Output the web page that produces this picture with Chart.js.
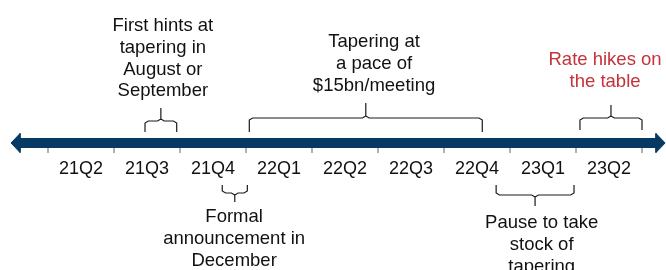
<!DOCTYPE html>
<html>
<head>
<meta charset="utf-8">
<script src="https://cdn.jsdelivr.net/npm/chart.js@4.4.0/dist/chart.umd.min.js"></script>
<style>
  html, body { margin: 0; padding: 0; background: #fff; }
  #wrap { width: 666px; height: 270px; position: relative; }
</style>
</head>
<body>
<div id="wrap"><canvas id="chart"></canvas></div>
<script>
// quarters on the timeline (one tick between each)
const quarters = ['21Q2', '21Q3', '21Q4', '22Q1', '22Q2', '22Q3', '22Q4', '23Q1', '23Q2'];

// events, in quarter units (0 = start of 21Q2)
const eventText = [
    ['First hints at', 'tapering in', 'August or', 'September'],
    ['Tapering at', 'a pace of', '$15bn/meeting'],
    ['Rate hikes on', 'the table'],
    ['Formal', 'announcement in', 'December'],
    ['Pause to take', 'stock of', 'tapering']
];
const eventStart = [1.47, 3.05, 8.06, 2.64, 6.79];
const eventEnd   = [1.95, 6.58, 9.00, 3.02, 7.97];
const eventRed   = [false, false, true, false, false];

// layout: text centre (quarter units), first baseline and bracket levels (px above the bar)
const textX       = [1.74, 4.94, 8.44, 2.82, 7.48];
const textTopY    = [112, 96, 78, -79, -85];
const bracketNear = [11, 11, 13, -42, -42];
const bracketMid  = [22, 25, 25, -50, -52];
const bracketTip  = [35, 40, 38, -59, -63];

const navy = '#063a64';
const red = '#c5323b';
const ink = '#111111';
const lineH = 21.8;
const labelY = -30.5;

// arrow ends (quarter units)
const arrowTipL = -0.56, arrowBaseL = -0.424;
const arrowBaseR = 9.212, arrowTipR = 9.35;

function bracket(i){
    let a = eventStart[i], b = eventEnd[i];
    let m = (a + b) / 2;
    let n = bracketNear[i], l = bracketMid[i], t = bracketTip[i];
    let s = Math.sign(l - n);
    let dx = 0.05, dy = 2 * s;
    return [
        {x: a, y: n}, {x: a, y: l - dy}, {x: a + dx, y: l}, {x: m - dx, y: l}, {x: m, y: l + dy}, {x: m, y: t},
        {x: m, y: l + dy}, {x: m + dx, y: l}, {x: b - dx, y: l}, {x: b, y: l - dy}, {x: b, y: n}
    ];
}

let tickData = [];
for(let k = 0; k <= quarters.length; k++){
    tickData.push({x: k, y: -5}, {x: k, y: -10}, {x: k, y: null});
}

let datasets = [];
datasets.push({
    data: [{x: arrowBaseL, y: 0}, {x: arrowBaseR, y: 0}],
    borderColor: navy, borderWidth: 10, order: 1
});
datasets.push({
    data: [{x: arrowTipL, y: 0}, {x: arrowBaseL, y: 9.5}, {x: arrowBaseL, y: -9.5}, {x: arrowTipL, y: 0}],
    borderColor: navy, backgroundColor: navy, borderWidth: 1, fill: 'shape', order: 1
});
datasets.push({
    data: [{x: arrowTipR, y: 0}, {x: arrowBaseR, y: 9.5}, {x: arrowBaseR, y: -9.5}, {x: arrowTipR, y: 0}],
    borderColor: navy, backgroundColor: navy, borderWidth: 1, fill: 'shape', order: 1
});
datasets.push({
    data: tickData, borderColor: '#a6a6a6', borderWidth: 1, spanGaps: false, order: 2
});
for(let i = 0; i < eventText.length; i++){
    datasets.push({
        data: bracket(i), borderColor: '#1a1a1a', borderWidth: 1.2, order: 0
    });
}

const textPlugin = {
    id: 'texts',
    afterDatasetsDraw(chart){
        const ctx = chart.ctx;
        const x = chart.scales.x, y = chart.scales.y;
        ctx.save();
        ctx.textAlign = 'center';
        ctx.textBaseline = 'alphabetic';
        ctx.fillStyle = ink;
        ctx.font = '18px "Liberation Sans", Arial, sans-serif';
        quarters.forEach((q, i) => {
            ctx.fillText(q, x.getPixelForValue(i + 0.5), y.getPixelForValue(labelY));
        });
        ctx.font = '18.5px "Liberation Sans", Arial, sans-serif';
        eventText.forEach((lines, i) => {
            ctx.fillStyle = eventRed[i] ? red : ink;
            lines.forEach((s, j) => {
                ctx.fillText(s, x.getPixelForValue(textX[i]), y.getPixelForValue(textTopY[i]) + j * lineH);
            });
        });
        ctx.restore();
    }
};

window.onload = function(){
    const ctx = document.getElementById('chart').getContext('2d');
    new Chart(ctx, {
        type: 'line',
        data: { datasets: datasets },
        options: {
            responsive: true,
            maintainAspectRatio: false,
            animation: false,
            events: [],
            layout: { padding: 0 },
            elements: { point: { radius: 0 }, line: { tension: 0 } },
            plugins: { legend: { display: false }, tooltip: { enabled: false } },
            scales: {
                x: { type: 'linear', min: -48 / 66, max: 618 / 66, display: false },
                y: { type: 'linear', min: -127, max: 143, display: false }
            }
        },
        plugins: [textPlugin]
    });
}
</script>
</body>
</html>
